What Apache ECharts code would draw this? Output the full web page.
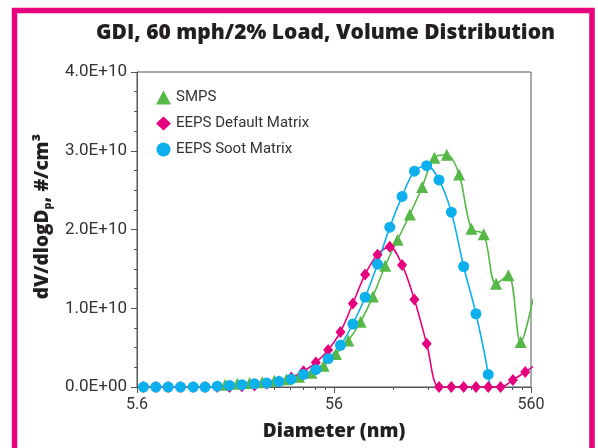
<!DOCTYPE html>
<html>
<head>
<meta charset="utf-8">
<script src="https://cdn.jsdelivr.net/npm/echarts@6/dist/echarts.min.js"></script>
<style>
  html, body { margin: 0; padding: 0; background: #fff; }
  #chart { width: 598px; height: 448px; }
</style>
</head>
<body>
<div id="chart"></div>
<script>
// EEPS channel midpoints (nm)
const eepsDiam = [6.04, 6.98, 8.06, 9.31, 10.8, 12.4, 14.3, 16.5, 19.1, 22.1, 25.5, 29.4,
  34.0, 39.2, 45.3, 52.3, 60.4, 69.8, 80.6, 93.1, 107.5, 124.1, 143.3, 165.5, 191.1,
  220.7, 254.8, 294.3, 339.8, 392.4, 453.2, 523.3, 604.3];
// values in units of 1E+10
const eepsDefault = [0, 0, 0, 0, 0, 0, 0, 0, 0.01, 0.02, 0.04, 0.07, 0.12, 0.20, 0.31,
  0.47, 0.70, 1.06, 1.43, 1.68, 1.78, 1.55, 1.11, 0.55, 0, 0, 0, 0, 0, 0, 0.09, 0.19, 0.30];
const eepsSoot = [0, 0, 0, 0, 0, 0, 0.01, 0.02, 0.03, 0.04, 0.05, 0.07, 0.10, 0.16, 0.22,
  0.36, 0.53, 0.80, 1.14, 1.56, 2.03, 2.42, 2.74, 2.81, 2.63, 2.22, 1.53, 0.93, 0.16, -1.0,
  null, null, null];
const smpsDiam = [15.7, 18.1, 20.9, 24.2, 27.9, 32.2, 37.2, 43.0, 49.6, 57.3, 66.2, 76.4,
  88.2, 101.9, 117.7, 135.9, 156.9, 181.2, 209.3, 241.7, 279.1, 322.3, 372.2, 429.8,
  496.3, 573.2];
const smps = [0.03, 0.04, 0.05, 0.06, 0.08, 0.10, 0.13, 0.18, 0.27, 0.42, 0.59, 0.83, 1.15,
  1.54, 1.87, 2.19, 2.54, 2.91, 2.95, 2.70, 2.01, 1.94, 1.31, 1.42, 0.57, 1.12];

const xMajor = [5.6, 56, 560];
const xMinor = [11.2, 16.8, 22.4, 28, 33.6, 39.2, 44.8, 50.4, 112, 168, 224, 280, 336, 392, 448, 504];

const pair = (xs, ys) => xs.map((x, i) => [x, ys[i]]);

const chart = echarts.init(document.getElementById('chart'));
const font = 'Roboto, "Open Sans", sans-serif';
const boldFont = '"Open Sans", sans-serif';

chart.setOption({
  animation: false,
  title: {
    text: 'GDI, 60 mph/2% Load, Volume Distribution',
    left: 91,
    top: 18,
    textStyle: { fontFamily: boldFont, fontSize: 21, fontWeight: 800, color: '#231f20' }
  },
  legend: {
    orient: 'vertical',
    left: 151,
    top: 85,
    itemWidth: 15,
    itemHeight: 14,
    itemGap: 11,
    textStyle: { fontFamily: font, fontSize: 15, color: '#333' },
    data: [
      { name: 'SMPS', icon: 'triangle' },
      { name: 'EEPS Default Matrix', icon: 'diamond' },
      { name: 'EEPS Soot Matrix', icon: 'circle' }
    ]
  },
  grid: {
    left: 137, right: 67, top: 72, bottom: 61,
    show: true, borderColor: '#555', borderWidth: 1
  },
  xAxis: [{
    type: 'log',
    logBase: 10,
    min: 5.6,
    max: 560,
    name: 'Diameter (nm)',
    nameLocation: 'middle',
    nameGap: 35,
    nameTextStyle: { fontFamily: boldFont, fontSize: 19, fontWeight: 800, color: '#231f20' },
    axisLine: { lineStyle: { color: '#555' } },
    axisTick: { customValues: xMajor, length: 6, lineStyle: { color: '#555' } },
    axisLabel: {
      customValues: xMajor,
      margin: 10,
      fontFamily: font, fontSize: 16, color: '#333',
      formatter: v => String(Math.round(v * 10) / 10)
    },
    splitLine: { show: false }
  }, {
    type: 'log',
    logBase: 10,
    min: 5.6,
    max: 560,
    position: 'bottom',
    axisLine: { show: false },
    axisTick: { customValues: xMinor, length: 3, lineStyle: { color: '#555' } },
    axisLabel: { show: false },
    splitLine: { show: false }
  }],
  yAxis: {
    type: 'value',
    min: 0,
    max: 4,
    interval: 1,
    name: 'dV/dlogD{sub|p}, #/cm³',
    nameLocation: 'middle',
    nameGap: 84,
    nameTextStyle: {
      fontFamily: boldFont, fontSize: 19, fontWeight: 800, color: '#231f20',
      padding: [0, 0, 0, 26],
      rich: { sub: { fontFamily: boldFont, fontSize: 11, fontWeight: 800, verticalAlign: 'bottom', padding: [9, 0, 0, 0] } }
    },
    axisLine: { show: true, lineStyle: { color: '#555' } },
    axisTick: { show: true, length: 6, lineStyle: { color: '#555' } },
    minorTick: { show: true, splitNumber: 4, length: 3, lineStyle: { color: '#555' } },
    axisLabel: {
      margin: 10,
      fontFamily: font, fontSize: 17, color: '#333',
      formatter: v => v === 0 ? '0.0E+00' : v.toFixed(1) + 'E+10'
    },
    splitLine: { show: false }
  },
  series: [{
    name: 'SMPS',
    type: 'line',
    smooth: 0.35,
    symbol: 'triangle',
    symbolSize: 12,
    clip: true,
    itemStyle: { color: '#56b947' },
    lineStyle: { color: '#56b947', width: 1.6 },
    data: pair(smpsDiam, smps)
  }, {
    name: 'EEPS Default Matrix',
    type: 'line',
    smooth: 0.35,
    symbol: 'diamond',
    symbolSize: [10, 12],
    clip: true,
    itemStyle: { color: '#e6007e' },
    lineStyle: { color: '#e6007e', width: 1.6 },
    data: pair(eepsDiam, eepsDefault)
  }, {
    name: 'EEPS Soot Matrix',
    type: 'line',
    smooth: 0.35,
    symbol: 'circle',
    symbolSize: 11,
    clip: true,
    itemStyle: { color: '#0db0ec' },
    lineStyle: { color: '#0db0ec', width: 1.6 },
    data: pair(eepsDiam, eepsSoot)
  }],
  graphic: [{
    type: 'rect',
    silent: true,
    shape: { x: 14.5, y: 10.5, width: 577.5, height: 460 },
    style: { fill: 'none', stroke: '#e6007e', lineWidth: 5.5 }
  }]
});
</script>
</body>
</html>
